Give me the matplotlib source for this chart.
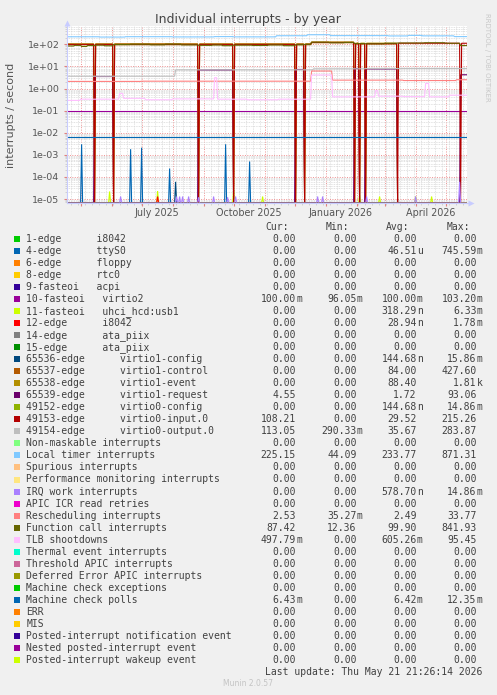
import numpy as np
import pandas as pd
import matplotlib
matplotlib.use('Agg')
import matplotlib.pyplot as plt
import matplotlib.dates as mdates
from matplotlib.ticker import LogLocator, FuncFormatter, NullFormatter
from matplotlib.patches import Rectangle

W, H, DPI = 497, 695, 100

# ---- legend table (as printed under the graph) ----
labels = [
    '1-edge      i8042', '4-edge      ttyS0', '6-edge      floppy', '8-edge      rtc0',
    '9-fasteoi   acpi', '10-fasteoi   virtio2', '11-fasteoi   uhci_hcd:usb1',
    '12-edge      i8042', '14-edge      ata_piix', '15-edge      ata_piix',
    '65536-edge      virtio1-config', '65537-edge      virtio1-control',
    '65538-edge      virtio1-event', '65539-edge      virtio1-request',
    '49152-edge      virtio0-config', '49153-edge      virtio0-input.0',
    '49154-edge      virtio0-output.0',
    'Non-maskable interrupts', 'Local timer interrupts', 'Spurious interrupts',
    'Performance monitoring interrupts', 'IRQ work interrupts', 'APIC ICR read retries',
    'Rescheduling interrupts', 'Function call interrupts', 'TLB shootdowns',
    'Thermal event interrupts', 'Threshold APIC interrupts', 'Deferred Error APIC interrupts',
    'Machine check exceptions', 'Machine check polls', 'ERR', 'MIS',
    'Posted-interrupt notification event', 'Nested posted-interrupt event',
    'Posted-interrupt wakeup event',
]
colors = [
    '#00CC00', '#0066B3', '#FF8000', '#FFCC00', '#330099', '#990099', '#CCFF00',
    '#FF0000', '#808080', '#008F00', '#00487D', '#B35A00', '#B38F00', '#6B006B',
    '#8FB300', '#B30000', '#BEBEBE', '#80FF80', '#80C9FF', '#FFC080', '#FFE680',
    '#AA80FF', '#EE00CC', '#FF8080', '#666600', '#FFBFFF', '#00FFCC', '#CC6699',
    '#999900', '#00CC00', '#0066B3', '#FF8000', '#FFCC00', '#330099', '#990099',
    '#CCFF00',
]
cur_vals = ['0.00', '0.00', '0.00', '0.00', '0.00', '100.00m', '0.00', '0.00', '0.00',
            '0.00', '0.00', '0.00', '0.00', '4.55', '0.00', '108.21', '113.05', '0.00',
            '225.15', '0.00', '0.00', '0.00', '0.00', '2.53', '87.42', '497.79m', '0.00',
            '0.00', '0.00', '0.00', '6.43m', '0.00', '0.00', '0.00', '0.00', '0.00']
min_vals = ['0.00', '0.00', '0.00', '0.00', '0.00', '96.05m', '0.00', '0.00', '0.00',
            '0.00', '0.00', '0.00', '0.00', '0.00', '0.00', '0.00', '290.33m', '0.00',
            '44.09', '0.00', '0.00', '0.00', '0.00', '35.27m', '12.36', '0.00', '0.00',
            '0.00', '0.00', '0.00', '0.00', '0.00', '0.00', '0.00', '0.00', '0.00']
avg_vals = ['0.00', '46.51u', '0.00', '0.00', '0.00', '100.00m', '318.29n', '28.94n',
            '0.00', '0.00', '144.68n', '84.00', '88.40', '1.72', '144.68n', '29.52',
            '35.67', '0.00', '233.77', '0.00', '0.00', '578.70n', '0.00', '2.49', '99.90',
            '605.26m', '0.00', '0.00', '0.00', '0.00', '6.42m', '0.00', '0.00', '0.00',
            '0.00', '0.00']
max_vals = ['0.00', '745.59m', '0.00', '0.00', '0.00', '103.20m', '6.33m', '1.78m',
            '0.00', '0.00', '15.86m', '427.60', '1.81k', '93.06', '14.86m', '215.26',
            '283.87', '0.00', '871.31', '0.00', '0.00', '14.86m', '0.00', '33.77',
            '841.93', '95.45', '0.00', '0.00', '0.00', '0.00', '12.35m', '0.00', '0.00',
            '0.00', '0.00', '0.00']

# ---- graph data (daily averages) ----
drop_days = ['2025-05-15', '2025-06-03', '2025-08-27', '2025-10-01', '2025-12-02',
             '2025-12-11', '2026-01-30', '2026-02-04', '2026-02-10', '2026-03-14',
             '2026-05-16']
loc_levels = [('2025-04-16', 220), ('2025-05-20', 214), ('2025-06-15', 222),
              ('2025-08-01', 217), ('2025-09-12', 224), ('2025-10-01', 218),
              ('2025-11-13', 245), ('2025-12-14', 272), ('2026-01-06', 248),
              ('2026-03-05', 240), ('2026-03-25', 254), ('2026-04-08', 242),
              ('2026-05-10', 224)]
cal_levels = [('2025-04-16', 84), ('2025-04-25', 90), ('2025-05-02', 80), ('2025-05-08', 88),
              ('2025-05-16', 92), ('2025-05-25', 86), ('2025-06-03', 98), ('2025-06-20', 101),
              ('2025-07-10', 96), ('2025-07-25', 102), ('2025-08-10', 95), ('2025-08-27', 90),
              ('2025-09-10', 94), ('2025-09-20', 87), ('2025-10-01', 92), ('2025-10-20', 89),
              ('2025-11-05', 94), ('2025-11-20', 87), ('2025-12-02', 96), ('2025-12-11', 100),
              ('2025-12-18', 125), ('2026-01-05', 118), ('2026-01-20', 122), ('2026-01-30', 108),
              ('2026-02-10', 106), ('2026-03-01', 112), ('2026-03-14', 115), ('2026-04-10', 118),
              ('2026-05-01', 112), ('2026-05-16', 88)]
ctrl_levels = [('2025-04-16', 96), ('2025-12-18', 118), ('2026-01-30', 104), ('2026-03-14', 0)]
event_levels = [('2025-04-16', 106), ('2025-12-18', 128), ('2026-01-30', 113), ('2026-03-14', 0)]
input_levels = [('2025-04-16', 100), ('2025-12-18', 122), ('2026-01-30', 108), ('2026-03-14', 112)]
output_levels = [('2025-04-16', 3.6), ('2025-08-04', 7.0), ('2025-12-20', 7.8), ('2026-02-10', 8.0)]
request_levels = [('2025-05-15', 3.5), ('2025-06-03', 0), ('2025-08-27', 6.9), ('2025-10-01', 0),
                  ('2025-12-02', 7.3), ('2025-12-11', 0), ('2026-01-30', 8.0), ('2026-02-04', 0),
                  ('2026-02-10', 7.7), ('2026-03-14', 0), ('2026-05-16', 4.2)]
res_levels = [('2025-04-16', 2.1), ('2025-07-01', 2.15), ('2025-12-18', 6.2),
              ('2026-01-08', 2.4), ('2026-03-20', 2.3), ('2026-05-12', 2.5)]
tlb_levels = [('2025-04-16', 0.29), ('2025-05-01', 0.33), ('2025-06-09', 0.6), ('2025-06-13', 0.36),
              ('2025-07-05', 0.31), ('2025-08-01', 0.34), ('2025-09-12', 3.1), ('2025-09-15', 0.33),
              ('2025-10-15', 0.31), ('2025-11-15', 0.33), ('2025-12-18', 4.1), ('2026-01-08', 0.42),
              ('2026-02-20', 0.8), ('2026-02-23', 0.45), ('2026-03-20', 0.43), ('2026-04-11', 1.7),
              ('2026-04-15', 0.42), ('2026-05-05', 0.5)]
virtio2_level = 0.1
mcp_level = 0.0066
ttys0_spikes = [('2025-05-02', 3.0e-3), ('2025-06-20', 1.8e-3), ('2025-07-01', 2.1e-3),
                ('2025-07-29', 2.4e-4), ('2025-09-23', 3.0e-3), ('2025-10-17', 5.0e-4)]
vconfig_spikes = [('2025-08-04', 6.0e-5)]
usb_spikes = [('2025-05-30', 2.2e-5), ('2025-07-17', 2.3e-5), ('2025-10-01', 2.5e-5),
              ('2025-10-30', 1.3e-5), ('2026-02-04', 1.5e-5), ('2026-02-24', 1.3e-5),
              ('2026-04-01', 1.3e-5), ('2026-04-17', 1.3e-5)]
i8042_spikes = [('2025-07-17', 1.3e-5)]
iwi_spikes = [('2025-06-10', 1.3e-5), ('2025-08-05', 1.3e-5), ('2025-08-08', 1.3e-5),
              ('2025-08-11', 1.3e-5), ('2025-08-17', 1.3e-5), ('2025-08-27', 1.2e-5),
              ('2025-09-11', 1.3e-5), ('2025-09-25', 1.2e-5), ('2025-10-03', 1.3e-5),
              ('2025-12-24', 1.3e-5), ('2025-12-29', 1.3e-5), ('2026-02-11', 1.3e-5),
              ('2026-04-01', 1.3e-5), ('2026-05-15', 6.0e-5)]

t_end = pd.Timestamp('2026-05-21 21:26')
t_start = t_end - pd.Timedelta(days=400)
days = pd.date_range('2025-04-16', '2026-05-22', freq='D')


def level(breaks):
    v = np.zeros(len(days))
    for d, val in breaks:
        v[days >= pd.Timestamp(d)] = val
    return v


def drops(v):
    v = v.copy()
    for d in drop_days:
        v[days == pd.Timestamp(d)] = 0
    return v


def spikes(pts):
    v = np.zeros(len(days))
    for d, val in pts:
        v[days == pd.Timestamp(d)] = val
    return v


zero = np.zeros(len(days))
series = [zero] * len(labels)
series[1] = spikes(ttys0_spikes)
series[5] = level([('2025-04-16', virtio2_level)])
series[6] = spikes(usb_spikes)
series[7] = spikes(i8042_spikes)
series[10] = spikes(vconfig_spikes)
series[11] = drops(level(ctrl_levels))
series[12] = drops(level(event_levels))
series[13] = level(request_levels)
series[15] = drops(level(input_levels))
series[16] = level(output_levels)
series[18] = level(loc_levels)
series[21] = spikes(iwi_spikes)
series[23] = level(res_levels)
series[24] = level(cal_levels)
series[25] = level(tlb_levels)
series[30] = level([('2025-04-16', mcp_level)])

ymin, ymax = 10 ** -5.18, 10 ** 2.83

fig = plt.figure(figsize=(W / DPI, H / DPI), dpi=DPI, facecolor='#F0F0F0')


def fx(px):
    return px / W


def fy(py):
    return 1 - py / H


ax = fig.add_axes([fx(66.5), fy(203), 400 / W, 177 / H])
ax.set_facecolor('white')
x = mdates.date2num(days)
for v, c in zip(series, colors):
    ax.plot(x, np.maximum(v, ymin), color=c, lw=0.8, solid_joinstyle='miter')

ax.set_yscale('log')
ax.set_ylim(ymin, ymax)
ax.set_xlim(mdates.date2num(t_start), mdates.date2num(t_end))

ax.yaxis.set_major_locator(LogLocator(base=10, numticks=20))
ax.yaxis.set_minor_locator(LogLocator(base=10, subs=np.arange(2, 10), numticks=20))
ax.yaxis.set_major_formatter(FuncFormatter(lambda v, p: '%.0e' % v))
ax.yaxis.set_minor_formatter(NullFormatter())
ax.xaxis.set_major_locator(mdates.MonthLocator())
ax.xaxis.set_minor_locator(mdates.WeekdayLocator(byweekday=mdates.MO))
ax.xaxis.set_major_formatter(NullFormatter())

ax.grid(which='minor', color='#D8D8D8', linestyle=(0, (1, 1)), lw=0.6)
ax.grid(which='major', color='#EE9090', linestyle=(0, (1, 1.5)), lw=0.7)
ax.set_axisbelow(True)

ax.tick_params(axis='y', which='major', labelsize=6.8, length=2, pad=3,
               colors='#E08080', labelcolor='#555555')
ax.tick_params(axis='y', which='minor', length=1.5, colors='#CCCCCC')
ax.tick_params(axis='x', which='major', length=2.5, colors='#E08080')
ax.tick_params(axis='x', which='minor', length=1.5, colors='#CCCCCC')

for s in ['top', 'right']:
    ax.spines[s].set_visible(False)
for s in ['left', 'bottom']:
    ax.spines[s].set_color('#C8CCFF')
    ax.spines[s].set_linewidth(0.8)
ax.plot([1.0, 1.012], [0, 0], color='#C8CCFF', lw=0.8, transform=ax.transAxes, clip_on=False)
ax.plot([1.012], [0], marker='>', ms=4, color='#C8CCFF', mec='none',
        transform=ax.transAxes, clip_on=False)
ax.plot([0], [1.015], marker='^', ms=4, color='#C8CCFF', mec='none',
        transform=ax.transAxes, clip_on=False)

# month labels sit in the middle of their month
month_labels = [('2025-07-16', 'July 2025'), ('2025-10-16', 'October 2025'),
                ('2026-01-16', 'January 2026'), ('2026-04-16', 'April 2026')]
for d, lab in month_labels:
    ax.text(mdates.date2num(pd.Timestamp(d)), -9.5 / 177, lab, transform=ax.get_xaxis_transform(),
            ha='center', va='center', fontsize=6.9, color='#555555')

fig.text(fx(248), fy(19.5), 'Individual interrupts - by year', ha='center', va='center',
         fontsize=9, color='#444444')
fig.text(fx(11), fy(115), 'interrupts / second', rotation=90, ha='center', va='center',
         fontsize=8, color='#555555')
fig.text(fx(487), fy(57), 'RRDTOOL / TOBI OETIKER', rotation=270, ha='center', va='center',
         fontsize=5, color='#C8C8C8')

# legend
mono = 'DejaVu Sans Mono'
fs = 7.0
cw = 5.97
txt = '#404040'
col_edges = [302, 362.7, 422.7, 482.7]
head_edges = [289, 349, 409, 470]
for e, h in zip(head_edges, ['Cur:', 'Min:', 'Avg:', 'Max:']):
    fig.text(fx(e), fy(227.3), h, ha='right', va='center', family=mono, fontsize=fs, color=txt)

row0, step = 239.3, 12.01
for i, lab in enumerate(labels):
    yy = row0 + i * step
    fig.add_artist(Rectangle((fx(14), fy(yy + 3)), 6 / W, 6 / H, transform=fig.transFigure,
                             facecolor=colors[i], edgecolor='none'))
    fig.text(fx(26.3), fy(yy), lab, ha='left', va='center', family=mono, fontsize=fs, color=txt)
    for e, s in zip(col_edges, [cur_vals[i], min_vals[i], avg_vals[i], max_vals[i]]):
        if s[-1] in 'numk':
            num, suf = s[:-1], s[-1]
        else:
            num, suf = s, ''
        fig.text(fx(e - cw), fy(yy), num, ha='right', va='center', family=mono,
                 fontsize=fs, color=txt)
        if suf:
            fig.text(fx(e - cw), fy(yy), suf, ha='left', va='center', family=mono,
                     fontsize=fs, color=txt)

fig.text(fx(482.7), fy(671.7), 'Last update: Thu May 21 21:26:14 2026', ha='right',
         va='center', family=mono, fontsize=fs, color=txt)
fig.text(fx(248), fy(684), 'Munin 2.0.57', ha='center', va='center', fontsize=5.5,
         color='#C4C4C4')

fig.savefig('out.png', dpi=DPI, facecolor=fig.get_facecolor())
